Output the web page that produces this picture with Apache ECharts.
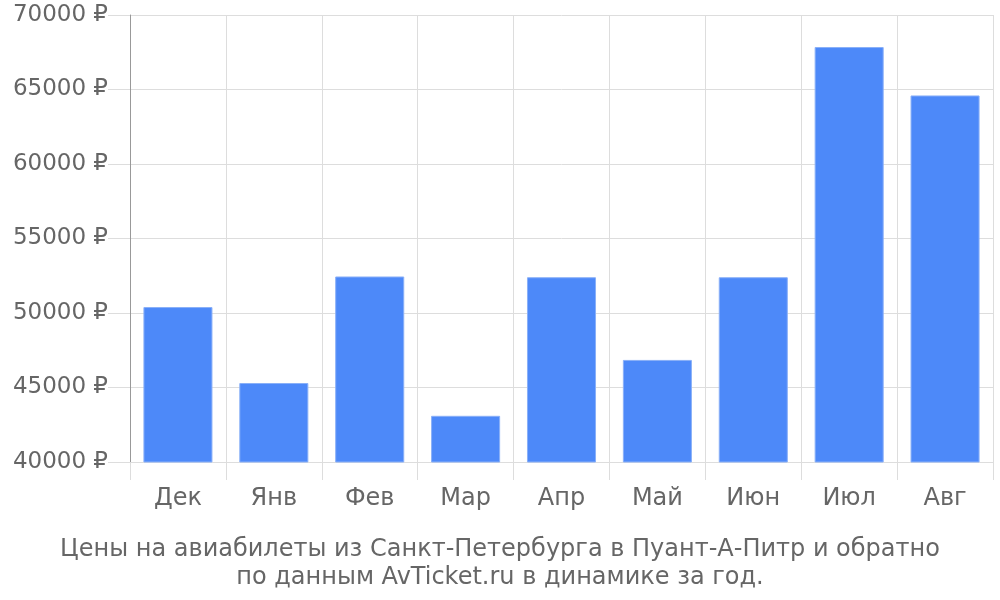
<!DOCTYPE html>
<html><head><meta charset="utf-8">
<script src="https://cdn.jsdelivr.net/npm/echarts@6/dist/echarts.min.js"></script>
<style>html,body{margin:0;padding:0;background:#fff}#c{width:1000px;height:600px}</style>
</head><body><div id="c"></div>
<script>
const categories = ['Дек','Янв','Фев','Мар','Апр','Май','Июн','Июл','Авг'];
const prices = [50400, 45300, 52450, 43100, 52400, 46850, 52400, 67850, 64600];
const titleLines = ['Цены на авиабилеты из Санкт-Петербурга в Пуант-А-Питр и обратно','по данным AvTicket.ru в динамике за год.'];
const chart = echarts.init(document.getElementById('c'));
const font = 'DejaVu Sans';
chart.setOption({
  animation: false,
  title: {
    text: titleLines.join('\n'),
    left: 'center', bottom: 3,
    textStyle: {fontFamily: font, fontSize: 24, fontWeight: 'normal', color: '#666', lineHeight: 28}
  },
  grid: {left: 130, right: 7, top: 15, bottom: 138},
  xAxis: {
    type: 'category', data: categories,
    axisLine: {show: true, lineStyle: {color: '#ddd'}},
    axisTick: {show: true, length: 18, lineStyle: {color: '#ddd'}},
    splitLine: {show: true, lineStyle: {color: '#ddd'}},
    axisLabel: {fontFamily: font, fontSize: 24, color: '#666', margin: 25}
  },
  yAxis: {
    type: 'value', min: 40000, max: 70000, interval: 5000,
    axisLine: {show: true, lineStyle: {color: '#999'}},
    axisTick: {show: true, length: 22, lineStyle: {color: '#ddd'}},
    splitLine: {show: true, lineStyle: {color: '#ddd'}},
    axisLabel: {fontFamily: font, fontSize: 23, color: '#666', margin: 22, formatter: v => v + ' ₽'}
  },
  series: [{
    type: 'bar', data: prices, barCategoryGap: '28%',
    itemStyle: {color: '#4d89f9', borderColor: '#8ab0f8', borderWidth: 1}
  }]
});
</script></body></html>
